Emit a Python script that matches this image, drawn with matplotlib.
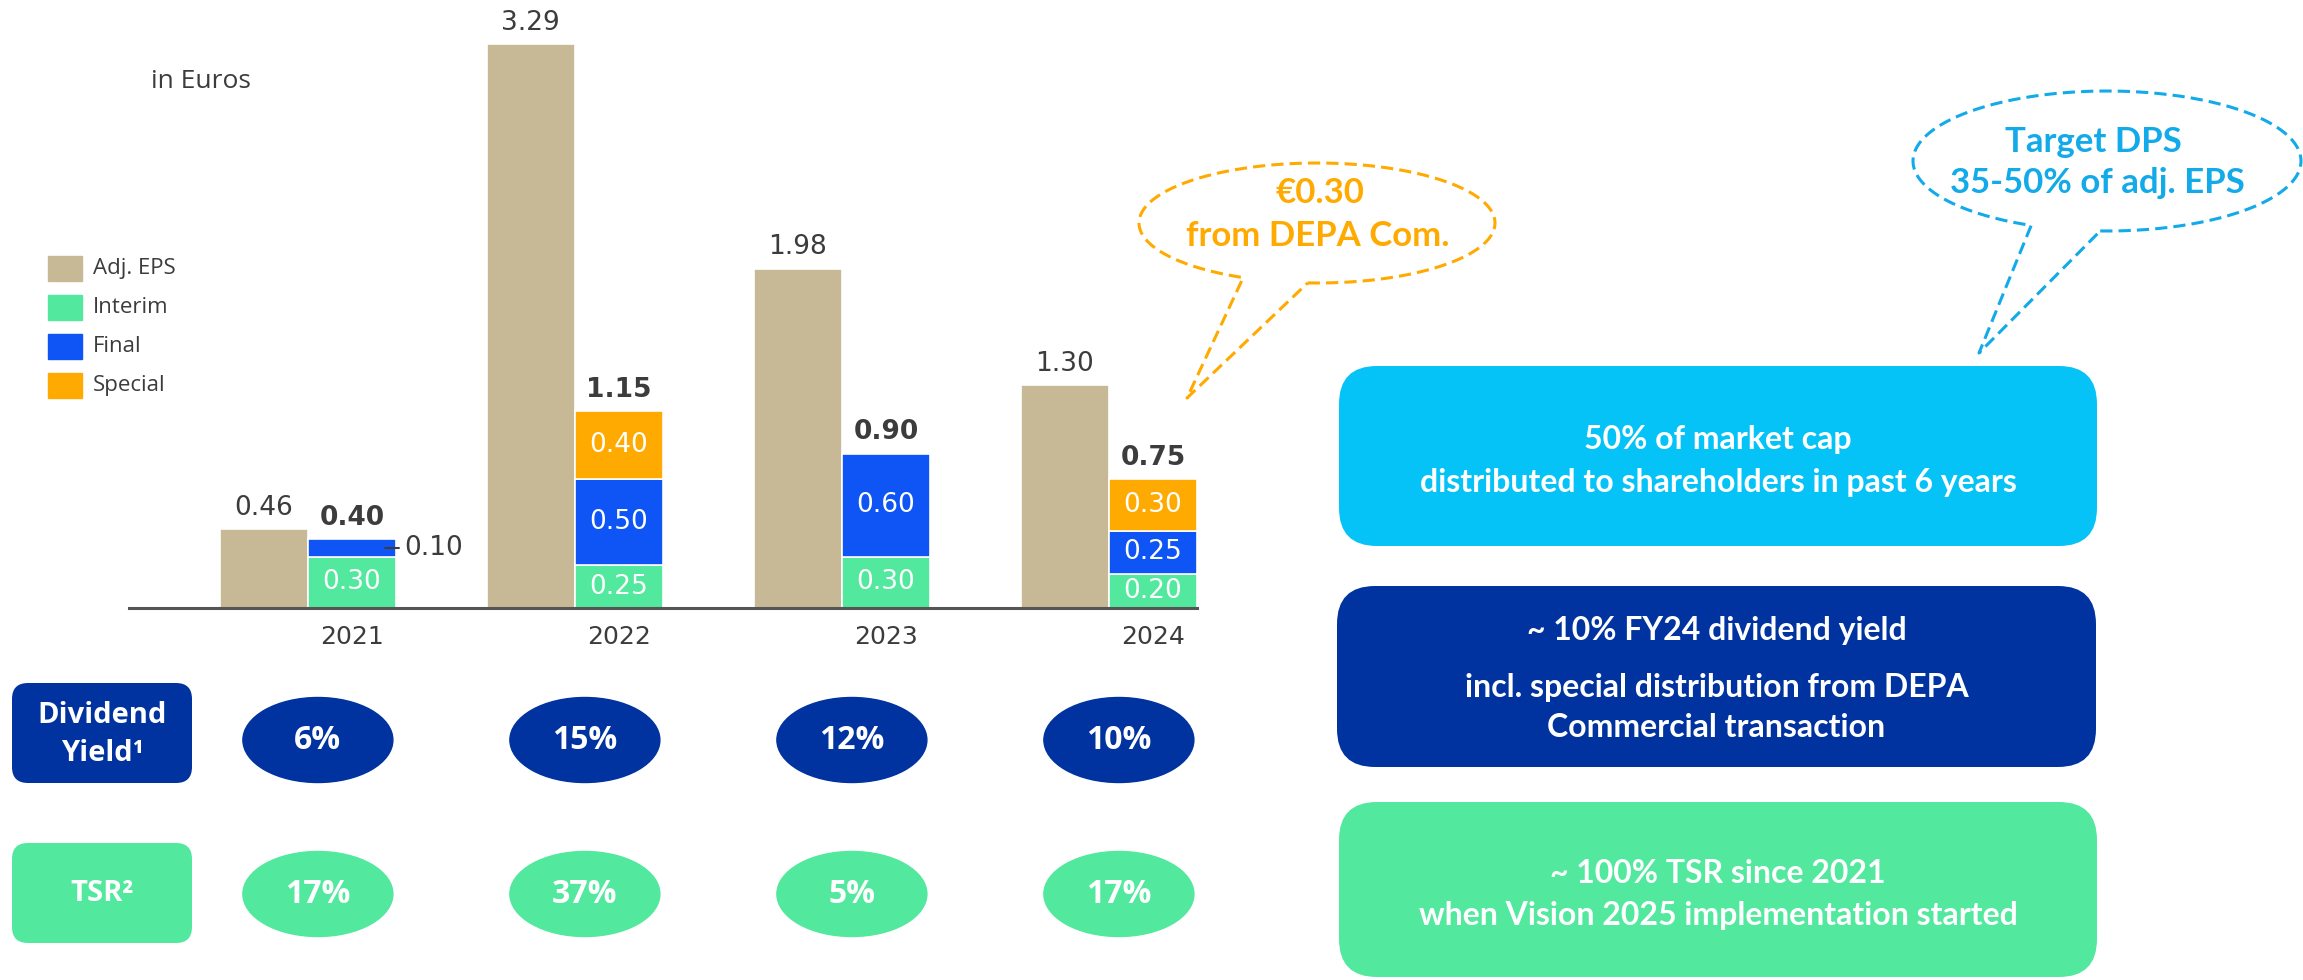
import numpy as np
import matplotlib.pyplot as plt
from matplotlib.patches import Ellipse, FancyBboxPatch, Rectangle

# data (euros per share)
years = ['2021', '2022', '2023', '2024']
adj_eps = [0.46, 3.29, 1.98, 1.30]
interim = [0.30, 0.25, 0.30, 0.20]
final = [0.10, 0.50, 0.60, 0.25]
special = [0.00, 0.40, 0.00, 0.30]
total_dps = [0.40, 1.15, 0.90, 0.75]
div_yield = ['6%', '15%', '12%', '10%']
tsr = ['17%', '37%', '5%', '17%']
legend_labels = ['Adj. EPS', 'Interim', 'Final', 'Special']

TAN = '#C8B996'
GREEN = '#52E89E'
BLUE = '#0F55F5'
ORANGE = '#FFAA00'
NAVY = '#0033A0'
SKY = '#05C3F7'
CALLOUT = '#12AAE8'
DARK = '#3C3C3C'

plt.rcParams['font.family'] = ['Open Sans', 'DejaVu Sans']
NUM = ['DejaVu Sans']   # wide digits like the original
BOLD = ['Lato', 'DejaVu Sans']

W, H = 2303, 980
fig = plt.figure(figsize=(W / 100, H / 100), dpi=100)
fig.patch.set_facecolor('white')


def rect(x0, y0, x1, y1):
    # pixel box, origin top-left -> figure fraction
    return [x0 / W, 1 - y1 / H, (x1 - x0) / W, (y1 - y0) / H]


# ---- bar chart ----
ax = fig.add_axes(rect(129, 8, 1197, 608))
x = np.arange(len(years))
w = 0.33
interim_a = np.array(interim)
final_a = np.array(final)
special_a = np.array(special)

ax.bar(x - w / 2, adj_eps, w, color=TAN, edgecolor='white', linewidth=1.2)
ax.bar(x + w / 2, interim_a, w, color=GREEN, edgecolor='white', linewidth=1.2)
ax.bar(x + w / 2, final_a, w, bottom=interim_a, color=BLUE, edgecolor='white', linewidth=1.2)
has_sp = special_a > 0
ax.bar((x + w / 2)[has_sp], special_a[has_sp], w, bottom=(interim_a + final_a)[has_sp],
       color=ORANGE, edgecolor='white', linewidth=1.2)

ax.set_xlim(-0.67, 3.33)
ax.set_ylim(0, 3.5)
for s in ['top', 'right', 'left']:
    ax.spines[s].set_visible(False)
ax.spines['bottom'].set_color('#555555')
ax.spines['bottom'].set_linewidth(2.2)
ax.set_yticks([])
ax.set_xticks(x + w / 2)
ax.set_xticklabels(years, fontsize=18, color=DARK, family=NUM)
ax.tick_params(axis='x', length=0, pad=12)

for i in range(len(years)):
    ax.annotate(f'{adj_eps[i]:.2f}', (x[i] - w / 2, adj_eps[i]), xytext=(0, 6),
                textcoords='offset points', ha='center', va='bottom', fontsize=19,
                color=DARK, family=NUM)
    ax.annotate(f'{total_dps[i]:.2f}', (x[i] + w / 2, total_dps[i]), xytext=(0, 6),
                textcoords='offset points', ha='center', va='bottom', fontsize=19,
                color=DARK, fontweight='bold', family=NUM)
    base = 0
    for vals in (interim, final, special):
        v = vals[i]
        if v >= 0.15:
            ax.text(x[i] + w / 2, base + v / 2, f'{v:.2f}', ha='center', va='center',
                    fontsize=19, color='white', family=NUM)
        elif v > 0:
            ax.annotate(f'{v:.2f}', (x[i] + w - 0.041, base + v / 2), xytext=(14, 0),
                        textcoords='offset points', ha='left', va='center', fontsize=19,
                        color=DARK, family=NUM,
                        arrowprops=dict(arrowstyle='-', color=DARK, lw=1.5,
                                        shrinkA=2, shrinkB=0))
        base += v

# ---- overlay in pixel coordinates ----
ov = fig.add_axes([0, 0, 1, 1])
ov.set_xlim(0, W)
ov.set_ylim(H, 0)
ov.axis('off')
ov.patch.set_alpha(0)

ov.text(151, 81, 'in Euros', fontsize=19, color=DARK, ha='left', va='center')

leg_colors = [TAN, GREEN, BLUE, ORANGE]
for k, (lab, col) in enumerate(zip(legend_labels, leg_colors)):
    cy = 268 + k * 39.3
    ov.add_patch(Rectangle((48, cy - 12.5), 34, 25, color=col))
    ov.text(93, cy, lab, fontsize=16, color=DARK, ha='left', va='center')

# row headers
ov.add_patch(FancyBboxPatch((12, 683), 180, 100, boxstyle='round,pad=0,rounding_size=16',
                            fc=NAVY, ec='none'))
ov.text(102, 715, 'Dividend', fontsize=21, fontweight='bold', color='white',
        ha='center', va='center')
ov.text(102, 753, 'Yield¹', fontsize=21, fontweight='bold', color='white',
        ha='center', va='center')
ov.add_patch(FancyBboxPatch((12, 843), 180, 100, boxstyle='round,pad=0,rounding_size=16',
                            fc=GREEN, ec='none'))
ov.text(102, 893, 'TSR²', fontsize=21, fontweight='bold', color='white',
        ha='center', va='center')

# ellipses placed under each year group
for i in range(len(years)):
    gx = ax.transData.transform((x[i], 0))[0] + 10
    ov.add_patch(Ellipse((gx, 740), 150, 85, color=NAVY))
    ov.text(gx, 740, div_yield[i], fontsize=23, fontweight='bold', color='white',
            ha='center', va='center')
    ov.add_patch(Ellipse((gx, 894), 150, 85, color=GREEN))
    ov.text(gx, 894, tsr[i], fontsize=23, fontweight='bold', color='white',
            ha='center', va='center')

# right-hand message boxes
boxes = [
    ((1339, 366, 758, 180), SKY, [('50% of market cap', 439), ('distributed to shareholders in past 6 years', 482)]),
    ((1337, 586, 759, 181), NAVY, [('~ 10% FY24 dividend yield', 630),
                                   ('incl. special distribution from DEPA', 687),
                                   ('Commercial transaction', 727)]),
    ((1339, 802, 758, 175), GREEN, [('~ 100% TSR since 2021', 873),
                                    ('when Vision 2025 implementation started', 915)]),
]
for (bx, by, bw, bh), col, lines in boxes:
    ov.add_patch(FancyBboxPatch((bx, by), bw, bh, boxstyle='round,pad=0,rounding_size=38',
                                fc=col, ec='none'))
    for txt, ty in lines:
        ov.text(bx + bw / 2, ty, txt, fontsize=23, fontweight='bold', color='white',
                ha='center', va='center', family=BOLD)


def callout(cx, cy, a, b, t0, t1, tip, color):
    t = np.radians(np.linspace(t0, t1, 300))
    xs = cx + a * np.cos(t)
    ys = cy + b * np.sin(t)
    px = np.concatenate([xs, [tip[0], xs[0]]])
    py = np.concatenate([ys, [tip[1], ys[0]]])
    ov.plot(px, py, color=color, lw=2.2, ls=(0, (4, 2)), solid_capstyle='butt')


callout(1317, 223, 178, 60, 93, 114.5 - 360, (1187, 398), ORANGE)
ov.text(1320, 193, '€0.30', fontsize=25, fontweight='bold', color=ORANGE,
        ha='center', va='center', family=BOLD)
ov.text(1318, 236, 'from DEPA Com.', fontsize=25, fontweight='bold', color=ORANGE,
        ha='center', va='center', family=BOLD)

callout(2107, 161, 194, 70, 92, 113 - 360, (1979, 353), CALLOUT)
ov.text(2093, 142, 'Target DPS', fontsize=25, fontweight='bold', color=CALLOUT,
        ha='center', va='center', family=BOLD)
ov.text(2097, 183, '35-50% of adj. EPS', fontsize=25, fontweight='bold', color=CALLOUT,
        ha='center', va='center', family=BOLD)

fig.savefig('out.png', dpi=100, facecolor='white')
